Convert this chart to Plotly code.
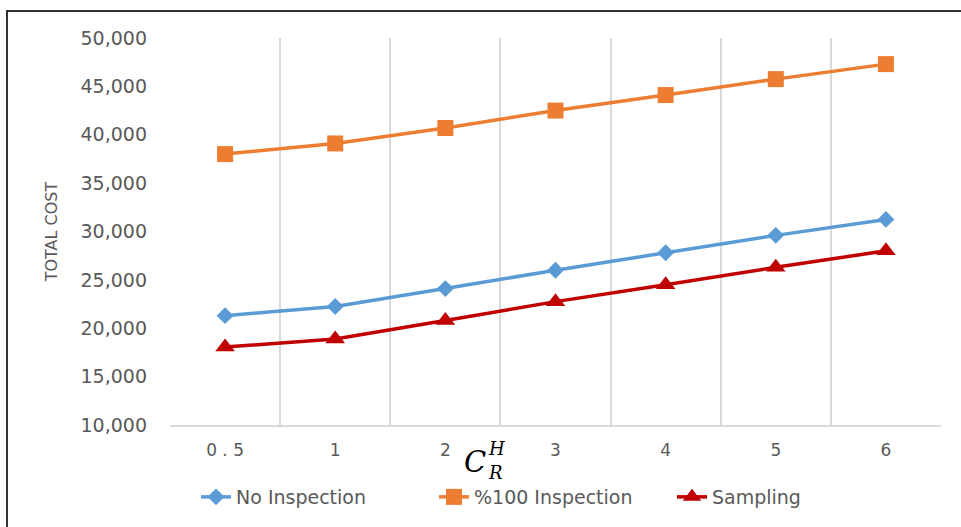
import plotly.graph_objects as go

# Cost ratio categories and the total cost of each inspection policy
categories = ["0.5", "1", "2", "3", "4", "5", "6"]
tick_labels = ["0 . 5", "1", "2", "3", "4", "5", "6"]
no_inspection = [21300, 22250, 24100, 26000, 27800, 29600, 31250]
full_inspection = [38000, 39100, 40700, 42500, 44100, 45750, 47300]
sampling = [18050, 18900, 20800, 22750, 24500, 26300, 28000]
y_ticks = [10000, 15000, 20000, 25000, 30000, 35000, 40000, 45000, 50000]

series = [
    ("No Inspection", no_inspection, "#5B9BD5", "diamond", 13),
    ("%100 Inspection", full_inspection, "#ED7D31", "square", 16),
    ("Sampling", sampling, "#C00000", "triangle-up", 17),
]

fig = go.Figure()
for name, values, color, symbol, size in series:
    fig.add_trace(go.Scatter(
        x=categories, y=values, name=name, mode="lines+markers",
        line=dict(color=color, width=3.5),
        marker=dict(symbol=symbol, size=size, color=color),
    ))

font_family = "DejaVu Sans, Verdana, sans-serif"
gray = "#595959"

fig.update_layout(
    width=961, height=527,
    margin=dict(l=170, r=20, t=38, b=101),
    paper_bgcolor="white", plot_bgcolor="white",
    font=dict(family=font_family, color=gray),
    showlegend=True,
    legend=dict(
        orientation="h", x=(196 - 170) / 771, xanchor="left",
        y=(426 - 497) / 388, yanchor="middle",
        font=dict(size=19, color=gray, family=font_family),
        entrywidth=193, entrywidthmode="pixels", bgcolor="rgba(0,0,0,0)",
    ),
    xaxis=dict(
        type="category", range=[-0.5, 6.5],
        tickmode="array", tickvals=categories, ticktext=tick_labels,
        tickson="boundaries", ticks="", showgrid=True,
        gridcolor="#d9d9d9", gridwidth=2,
        showline=True, linecolor="#d9d9d9", linewidth=2,
        tickfont=dict(size=17, color=gray), ticklabelstandoff=9,
        zeroline=False,
    ),
    yaxis=dict(
        range=[10000, 50000], tickvals=y_ticks, tickformat=",",
        showgrid=False, zeroline=False, showline=False, ticks="",
        tickfont=dict(size=19, color=gray), ticklabelstandoff=22,
        title=dict(text="TOTAL COST", font=dict(size=16, color=gray), standoff=18),
    ),
)

# Axis variable C_R^H written with stacked sub/superscript
serif = "DejaVu Serif, Liberation Serif, serif"
marks = [("<i>C</i>", 475, 463, 29), ("<i>H</i>", 496, 450, 18), ("<i>R</i>", 495, 474, 18)]
for txt, px, py, fs in marks:
    fig.add_annotation(xref="paper", yref="paper",
                       x=(px - 170) / 771, y=(426 - py) / 388,
                       xanchor="center", yanchor="middle",
                       text=txt, showarrow=False,
                       font=dict(family=serif, size=fs, color="black"))

# Chart frame
fig.add_shape(type="rect", xref="paper", yref="paper",
              x0=(7 - 170) / 771, x1=1.1, y0=-0.5, y1=(426 - 11) / 388,
              line=dict(color="#333333", width=2), layer="below")

fig.write_html("out.html")
